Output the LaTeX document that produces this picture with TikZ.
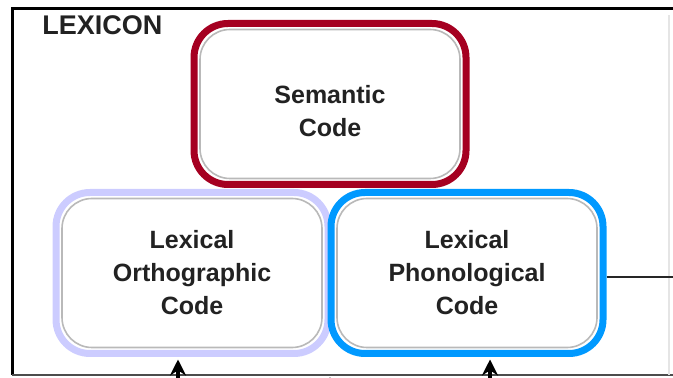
\documentclass[tikz,border=0pt]{standalone}
\usepackage{fontspec}
\setmainfont{Liberation Sans}
\usetikzlibrary{positioning,arrows.meta}
\definecolor{semred}{HTML}{A50021}
\definecolor{orthlav}{HTML}{CCCCFF}
\definecolor{phonblue}{HTML}{0099FF}
\definecolor{txtgray}{HTML}{222222}

\begin{document}
\begin{tikzpicture}[x=0.5pt,y=-0.5pt,on grid,auto,
    code/.style={draw,line width=3.5pt,fill=white,rounded corners=17pt,outer sep=0pt,
        minimum width=136pt,minimum height=80.5pt,align=center,
        font=\bfseries\fontsize{12.5}{16.5}\selectfont,text=txtgray},
    rim/.style={draw=gray!55,line width=0.8pt,rounded corners=15pt},
    feed/.style={-{Stealth[length=8pt,width=8pt]},line width=1.8pt,shorten >=3pt}]
  \useasboundingbox (0,0) rectangle (673,378);
  \clip (0,0) rectangle (673,378);

  % frame of the lexicon
  \draw[line width=1.5pt] (700,9) -| (12,375);
  \draw[line width=1pt,gray!60!black] (12,375) -- (700,375);
  \draw[line width=0.6pt,gray!20] (669,15) -- (669,375);
  \node[anchor=west,inner sep=0pt,text=txtgray,
        font=\bfseries\fontsize{13.5}{16}\selectfont] (lex) at (42,25) {LEXICON};

  \node[code,draw=semred] (sem) at (330,104) {\rule{0pt}{16pt}Semantic\\Code};
  \node[code,draw=orthlav] (orth) at (192,273) {Lexical\\Orthographic\\Code};
  \node[code,draw=phonblue] (phon) [right=137.5pt of orth] {Lexical\\Phonological\\Code};

  \foreach \n in {sem,orth,phon}
    \draw[rim] ([shift={(3pt,-3pt)}]\n.north west) rectangle ([shift={(-3pt,3pt)}]\n.south east);

  \coordinate (inO) at (178,400);
  \coordinate (inM) at (330,400);
  \coordinate (tipM) at (330,371);
  \coordinate (inP) at (490,400);
  \coordinate (outP) at (700,277);

  \path[feed] (inO) edge (inO |- orth.south);
  \path[feed] (inM) edge (tipM);
  \path[feed] (inP) edge (inP |- phon.south);
  \draw[line width=1.2pt,gray!30!black,shorten <=1.75pt] (phon.east |- outP) -- (outP);
\end{tikzpicture}
\end{document}
